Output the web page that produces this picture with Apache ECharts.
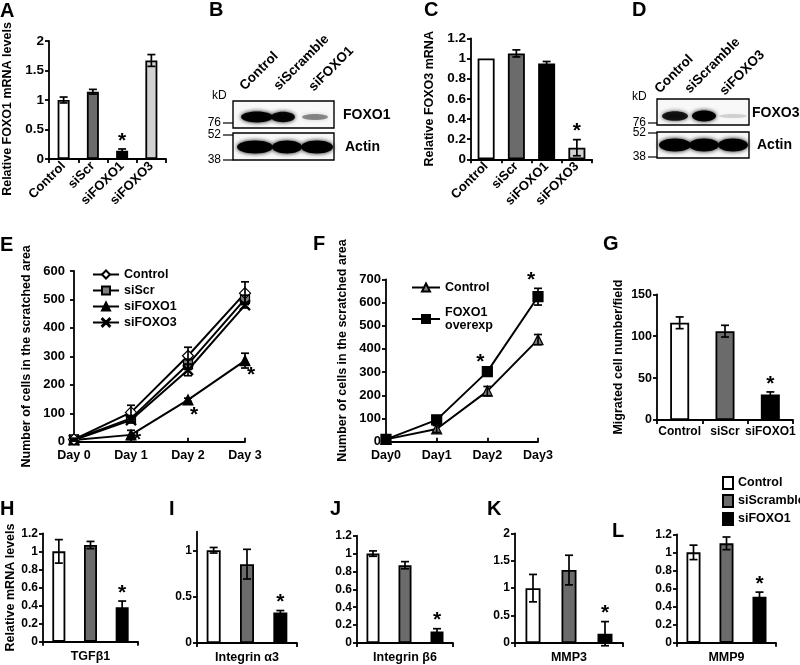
<!DOCTYPE html>
<html><head><meta charset="utf-8">
<script src="https://cdn.jsdelivr.net/npm/echarts@6/dist/echarts.min.js"></script>
<style>html,body{margin:0;padding:0;background:#fff}#c{width:800px;height:665px}</style>
</head><body><div id="c"></div>
<script>
// ---------------- DATA ----------------
// Panel A
const aCats = ['Control', 'siScr', 'siFOXO1', 'siFOXO3'];
const aVals = [1.00, 1.14, 0.14, 1.67];
const aErrs = [0.05, 0.04, 0.03, 0.10];
const aSig  = [0, 0, 1, 0];
// Panel C
const cCats = ['Control', 'siScr', 'siFOXO1', 'siFOXO3'];
const cVals = [1.00, 1.05, 0.95, 0.115];
const cErrs = [0, 0.035, 0.02, 0.08];
const cSig  = [0, 0, 0, 1];
// Panel B / D blots (relative band intensity)
const bLanes = ['Control', 'siScramble', 'siFOXO1'];
const bTarget = 'FOXO1';
const bTargetBands = [1.0, 0.95, 0.35];
const bActinBands = [1.0, 1.0, 1.0];
const dLanes = ['Control', 'siScramble', 'siFOXO3'];
const dTarget = 'FOXO3';
const dTargetBands = [0.85, 1.0, 0.08];
const dActinBands = [1.0, 1.0, 1.0];
const markerLabels = ['kD', '76', '52', '38'];
// Panel E
const eDays = ['Day 0', 'Day 1', 'Day 2', 'Day 3'];
const eNames = ['Control', 'siScr', 'siFOXO1', 'siFOXO3'];
const eControl = [8, 103, 302, 522],  eControlErr = [4, 25, 30, 40];
const eScr     = [8, 82, 272, 501],   eScrErr     = [3, 10, 18, 14];
const eFoxo1   = [6, 24, 147, 285],   eFoxo1Err   = [3, 16, 6, 26];
const eFoxo3   = [6, 76, 252, 480],   eFoxo3Err   = [3, 10, 20, 10];
const eFoxo1Sig = [0, 1, 1, 1];
// Panel F
const fDays = ['Day0', 'Day1', 'Day2', 'Day3'];
const fNames = ['Control', 'FOXO1\noverexp'];
const fControl = [10, 55, 218, 440], fControlErr = [3, 15, 20, 22];
const fFoxo1   = [10, 94, 302, 625], fFoxo1Err   = [3, 8, 6, 36];
const fFoxo1Sig = [0, 0, 1, 1];
// Panel G
const gCats = ['Control', 'siScr', 'siFOXO1'];
const gVals = [116, 106, 30.5];
const gErrs = [7, 7, 3];
const gSig  = [0, 0, 1];
// Panels H-L
const grpNames = ['Control', 'siScramble', 'siFOXO1'];
const hGene = 'TGFβ1',       hVals = [1.00, 1.07, 0.38], hErrs = [0.13, 0.04, 0.07];
const iGene = 'Integrin α3', iVals = [1.00, 0.85, 0.33], iErrs = [0.03, 0.16, 0.02];
const jGene = 'Integrin β6', jVals = [1.00, 0.87, 0.13], jErrs = [0.03, 0.04, 0.03];
const kGene = 'MMP3',        kVals = [1.00, 1.33, 0.17], kErrs = [0.25, 0.27, 0.22];
const lGene = 'MMP9',        lVals = [1.00, 1.10, 0.51], lErrs = [0.08, 0.07, 0.05];
const hlSig = [0, 0, 1];

// ---------------- STYLE ----------------
const FF = '"Liberation Sans", Arial, sans-serif';
const WHITE = '#ffffff', DGRAY = '#6b6b6b', BLACK = '#000000', LGRAY = '#d2d2d2', MGRAY = '#808080';
const LW = 1.8;
const lbl = (size) => ({ fontFamily: FF, fontWeight: 'bold', fontSize: size || 12, color: '#000' });

const grids = [
  { left: 48,  top: 41,    width: 118, height: 118 },   // 0 A
  { left: 471, top: 38.3,  width: 121, height: 121 },   // 1 C
  { left: 70,  top: 271,   width: 175, height: 170.7 }, // 2 E
  { left: 386, top: 279.3, width: 152, height: 162.4 }, // 3 F
  { left: 657, top: 294.3, width: 136, height: 125.7 }, // 4 G
  { left: 43,  top: 533.3, width: 95,  height: 108.4 }, // 5 H
  { left: 197, top: 531.7, width: 100, height: 111.6 }, // 6 I
  { left: 357, top: 535.7, width: 96,  height: 107.6 }, // 7 J
  { left: 515, top: 533.3, width: 108, height: 110 },   // 8 K
  { left: 677, top: 534.3, width: 99,  height: 108.4 }  // 9 L
];

function yAx(gi, min, max, interval, name, nameGap, extra, fs) {
  return Object.assign({
    type: 'value', gridIndex: gi, min, max, interval,
    name: name || '', nameLocation: 'middle', nameGap: nameGap || 30,
    nameTextStyle: lbl(12.5),
    axisLine: { show: true, lineStyle: { color: '#000', width: LW } },
    axisTick: { show: true, length: 4, lineStyle: { color: '#000', width: LW } },
    axisLabel: Object.assign(lbl(fs || 12), { margin: 5 }),
    splitLine: { show: false }
  }, extra || {});
}
function xCat(gi, data, extra) {
  return Object.assign({
    type: 'category', gridIndex: gi, data,
    axisLine: { show: true, lineStyle: { color: '#000', width: LW } },
    axisTick: { show: true, length: 4, lineStyle: { color: '#000', width: LW } },
    axisLabel: Object.assign(lbl(12), { interval: 0, margin: 5 }),
    splitLine: { show: false }
  }, extra || {});
}

// error bars + significance stars drawn through the axis scales
function errSeries(ai, rows, opt) {
  opt = opt || {};
  const cap = opt.cap || 4;
  return {
    type: 'custom', xAxisIndex: ai, yAxisIndex: ai, z: 10, silent: true,
    data: rows, encode: { x: 0, y: 1 },
    renderItem(params, api) {
      const x = api.value(0), v = api.value(1), e = api.value(2), s = api.value(3);
      const c = api.coord([x, v]);
      const t = api.coord([x, v + e]);
      const b = api.coord([x, v - e]);
      const base = api.coord([x, 0]);
      const ch = [];
      const ls = { stroke: '#000', lineWidth: 1.7 };
      if (e > 0) {
        ch.push({ type: 'line', shape: { x1: c[0], y1: t[1], x2: c[0], y2: b[1] }, style: ls });
        ch.push({ type: 'line', shape: { x1: c[0] - cap, y1: t[1], x2: c[0] + cap, y2: t[1] }, style: ls });
        ch.push({ type: 'line', shape: { x1: c[0] - cap, y1: b[1], x2: c[0] + cap, y2: b[1] }, style: ls });
      }
      if (s) {
        let sx, sy;
        if (opt.star === 'point') { sx = c[0] + opt.dx; sy = Math.min(c[1] + opt.dy, base[1] - 1); }
        else if (opt.star === 'topoff') { sx = t[0] + opt.dx; sy = t[1] + opt.dy; }
        else { sx = t[0]; sy = t[1] - 8; }
        ch.push({ type: 'text', x: sx, y: sy,
          style: { text: '*', font: 'bold 21px ' + FF, fill: '#000',
                   align: 'center', verticalAlign: 'middle', textAlign: 'center', textVerticalAlign: 'middle' } });
      }
      return { type: 'group', children: ch };
    }
  };
}
const rows = (vals, errs, sig) => vals.map((v, i) => [i, v, errs[i], sig ? sig[i] : 0]);

function singleBars(ai, vals, colors, bw) {
  return {
    type: 'bar', xAxisIndex: ai, yAxisIndex: ai, barWidth: bw,
    itemStyle: { borderColor: '#000', borderWidth: 1.8 },
    data: vals.map((v, i) => ({ value: v, itemStyle: { color: colors[i] } }))
  };
}

const xAxes = [], yAxes = [], series = [];
// A
xAxes.push(xCat(0, aCats, { axisLabel: Object.assign(lbl(13), { interval: 0, rotate: 45, margin: 5 }) }));
yAxes.push(yAx(0, 0, 2, 0.5, 'Relative FOXO1 mRNA levels', 35, { nameTextStyle: Object.assign(lbl(12.5), { padding: [0, 18, 0, 0] }) }, 13.5));
series.push(singleBars(0, aVals, [WHITE, DGRAY, BLACK, LGRAY], 12));
series.push(errSeries(0, rows(aVals, aErrs, aSig)));
// C
xAxes.push(xCat(1, cCats, { axisLabel: Object.assign(lbl(13), { interval: 0, rotate: 45, margin: 5 }) }));
yAxes.push(yAx(1, 0, 1.2, 0.2, 'Relative FOXO3 mRNA', 35, null, 13.5));
series.push(singleBars(1, cVals, [WHITE, DGRAY, BLACK, LGRAY], 17));
series.push(errSeries(1, rows(cVals, cErrs, cSig)));
// E
const eIdx = eDays.map((d, i) => i);
xAxes.push({
  type: 'value', gridIndex: 2, min: -0.07, max: 3,
  axisLine: { show: true, lineStyle: { color: '#000', width: LW } },
  axisTick: { show: true, inside: true, length: 4, customValues: eIdx, lineStyle: { color: '#000', width: LW } },
  axisLabel: Object.assign(lbl(12.5), { customValues: eIdx, margin: 7, formatter: v => eDays[Math.round(v)] }),
  splitLine: { show: false }
});
yAxes.push(yAx(2, 0, 600, 100, 'Number of cells in the scratched area', 37, null, 13));
const eSeriesDef = [
  { name: eNames[1], vals: eScr,     errs: eScrErr,     sym: 'rect',     size: 9,  fill: MGRAY },
  { name: eNames[3], vals: eFoxo3,   errs: eFoxo3Err,   sym: 'path://M0,0.8 L0.8,0 L5,4.2 L9.2,0 L10,0.8 L5.8,5 L10,9.2 L9.2,10 L5,5.8 L0.8,10 L0,9.2 L4.2,5 Z', size: 10, fill: BLACK },
  { name: eNames[2], vals: eFoxo1,   errs: eFoxo1Err,   sym: 'triangle', size: 10, fill: BLACK, sig: eFoxo1Sig },
  { name: eNames[0], vals: eControl, errs: eControlErr, sym: 'diamond',  size: 11, fill: WHITE }
];
eSeriesDef.forEach(d => {
  series.push({
    type: 'line', name: d.name, xAxisIndex: 2, yAxisIndex: 2,
    data: d.vals.map((v, i) => [i, v]),
    symbol: d.sym, symbolSize: d.size, showAllSymbol: true,
    lineStyle: { color: '#000', width: 2 },
    itemStyle: { color: d.fill, borderColor: '#000', borderWidth: 1.2 },
    z: 3
  });
  series.push(errSeries(2, rows(d.vals, d.errs, d.sig), { star: 'point', dx: 6, dy: 15 }));
});
// F
xAxes.push(xCat(3, fDays, {
  boundaryGap: false,
  axisTick: { show: true, inside: true, length: 4, lineStyle: { color: '#000', width: LW } },
  axisLabel: Object.assign(lbl(12.5), { interval: 0, margin: 7 })
}));
yAxes.push(yAx(3, 0, 700, 100, 'Number of cells in the scratched area', 37, { nameTextStyle: Object.assign(lbl(12.5), { padding: [0, 0, 0, 20] }) }, 13));
const fSeriesDef = [
  { name: 'F:' + fNames[0], vals: fControl, errs: fControlErr, sym: 'triangle', size: 10, fill: MGRAY },
  { name: 'F:' + fNames[1], vals: fFoxo1,   errs: fFoxo1Err,   sym: 'rect',     size: 10, fill: BLACK, sig: fFoxo1Sig }
];
fSeriesDef.forEach(d => {
  series.push({
    type: 'line', name: d.name, xAxisIndex: 3, yAxisIndex: 3,
    data: d.vals, symbol: d.sym, symbolSize: d.size, showAllSymbol: true,
    lineStyle: { color: '#000', width: 2 },
    itemStyle: { color: d.fill, borderColor: '#000', borderWidth: 1.2 }, z: 3
  });
  series.push(errSeries(3, rows(d.vals, d.errs, d.sig), { star: 'topoff', dx: -7, dy: -8 }));
});
// G
xAxes.push(xCat(4, gCats, { axisLabel: Object.assign(lbl(12), { interval: 0, margin: 6 }) }));
yAxes.push(yAx(4, 0, 150, 50, 'Migrated cell number/field', 32, null, 12.5));
series.push(singleBars(4, gVals, [WHITE, DGRAY, BLACK], 19));
series.push(errSeries(4, rows(gVals, gErrs, gSig)));
// H-L
const grpColors = [WHITE, DGRAY, BLACK];
const hl = [
  { gi: 5, gene: hGene, vals: hVals, errs: hErrs, max: 1.2, itv: 0.2, bw: 13, name: 'Relative mRNA levels' },
  { gi: 6, gene: iGene, vals: iVals, errs: iErrs, max: 1.2, itv: 0.5, bw: 14, custom: [0, 0.5, 1] },
  { gi: 7, gene: jGene, vals: jVals, errs: jErrs, max: 1.2, itv: 0.2, bw: 13 },
  { gi: 8, gene: kGene, vals: kVals, errs: kErrs, max: 2,   itv: 0.5, bw: 15 },
  { gi: 9, gene: lGene, vals: lVals, errs: lErrs, max: 1.2, itv: 0.2, bw: 14 }
];
hl.forEach(p => {
  xAxes.push(xCat(p.gi, grpNames, {
    name: p.gene, nameLocation: 'middle', nameGap: 8, nameTextStyle: Object.assign(lbl(12.5), { verticalAlign: 'top' }),
    axisLabel: { show: false }
  }));
  const extra = {};
  if (p.custom) {
    extra.axisLabel = Object.assign(lbl(12), { margin: 5, customValues: p.custom });
    extra.axisTick = { show: true, length: 4, customValues: p.custom, lineStyle: { color: '#000', width: LW } };
  }
  yAxes.push(yAx(p.gi, 0, p.max, p.custom ? undefined : p.itv, p.name || '', 24, extra));
  grpNames.forEach((g, k) => {
    series.push({
      type: 'bar', name: 'bar:' + g, xAxisIndex: p.gi, yAxisIndex: p.gi,
      barWidth: p.bw, barGap: '-100%',
      itemStyle: { color: grpColors[k], borderColor: '#000', borderWidth: 1.8 },
      data: p.vals.map((v, j) => (j === k ? v : '-'))
    });
  });
  series.push(errSeries(p.gi, rows(p.vals, p.errs, hlSig)));
});

// ---------------- GRAPHICS: panel letters + blots ----------------
const graphic = [];
const letters = [['A', 0, 11], ['B', 209, 10], ['C', 424, 10], ['D', 632, 10], ['E', 0, 245],
  ['F', 313, 244], ['G', 603, 244], ['H', 0, 509], ['I', 169, 509], ['J', 330, 509], ['K', 487, 509], ['L', 612, 531]];
letters.forEach(([t, x, y]) => graphic.push({ type: 'text', x, y,
  style: { text: t, font: 'bold 20px ' + FF, fill: '#000', textAlign: 'left', textVerticalAlign: 'middle', align: 'left', verticalAlign: 'middle' } }));

function txt(text, x, y, font, align, valign, rot) {
  return { type: 'text', x, y, rotation: rot || 0, z: 5,
    style: { text, font, fill: '#000', textAlign: align, textVerticalAlign: valign, align, verticalAlign: valign } };
}
function blot(cfg) {
  const { boxX, boxW, tTop, aTop, h, tCy, aCy, tCx, tRx, aCx, aRx, tBands, aBands, lanes, laneAnchors, target, tLabel, aLabel, mk } = cfg;
  graphic.push({ type: 'rect', shape: { x: boxX, y: tTop, width: boxW, height: h }, style: { fill: '#f8f8f8', stroke: '#000', lineWidth: 1.4 }, z: 1 });
  graphic.push({ type: 'rect', shape: { x: boxX, y: aTop, width: boxW, height: h }, style: { fill: '#f8f8f8', stroke: '#000', lineWidth: 1.4 }, z: 1 });
  tBands.forEach((I, i) => {
    const a = (0.08 + 0.9 * I).toFixed(2);
    graphic.push({ type: 'ellipse', z: 2, shape: { cx: tCx[i], cy: tCy, rx: tRx[i], ry: 1.8 + 3.6 * I },
      style: { fill: 'rgba(0,0,0,' + a + ')', shadowBlur: 4, shadowColor: 'rgba(0,0,0,' + a + ')' } });
  });
  aBands.forEach((I, i) => {
    const a = (0.08 + 0.9 * I).toFixed(2);
    graphic.push({ type: 'ellipse', z: 2, shape: { cx: aCx[i], cy: aCy, rx: aRx[i], ry: 6.5 * I },
      style: { fill: 'rgba(0,0,0,' + a + ')', shadowBlur: 4, shadowColor: 'rgba(0,0,0,' + a + ')' } });
  });
  lanes.forEach((l, i) => graphic.push(txt(l, laneAnchors[i][0], laneAnchors[i][1], 'bold 13.5px ' + FF, 'left', 'bottom', Math.PI / 4)));
  graphic.push(txt(target, tLabel[0], tLabel[1], 'bold 14px ' + FF, 'left', 'middle'));
  graphic.push(txt('Actin', aLabel[0], aLabel[1], 'bold 14px ' + FF, 'left', 'middle'));
  // molecular-weight markers
  graphic.push(txt(markerLabels[0], mk.kdX, mk.kdY, '12px ' + FF, 'left', 'middle'));
  [1, 2, 3].forEach(k => {
    const y = mk.ys[k - 1];
    graphic.push(txt(markerLabels[k], mk.numX, y, '12px ' + FF, 'right', 'middle'));
    graphic.push({ type: 'line', z: 3, shape: { x1: mk.numX + 2, y1: y, x2: boxX, y2: y }, style: { stroke: '#000', lineWidth: 1.2 } });
  });
}
blot({ boxX: 233, boxW: 101, tTop: 101, aTop: 133, h: 27, tCy: 117, aCy: 147,
  tCx: [257, 283, 315], tRx: [16, 12, 13], aCx: [255, 287, 317], aRx: [18, 15, 16],
  tBands: bTargetBands, aBands: bActinBands, lanes: bLanes,
  laneAnchors: [[247, 93], [281, 93], [316, 94]], target: bTarget, tLabel: [343, 115], aLabel: [345, 147],
  mk: { kdX: 212, kdY: 96, numX: 221, ys: [123, 135, 160] } });
blot({ boxX: 657, boxW: 92, tTop: 99, aTop: 132, h: 26, tCy: 116, aCy: 145,
  tCx: [675, 704, 733], tRx: [13, 12, 14], aCx: [675, 704, 733], aRx: [16, 15, 15],
  tBands: dTargetBands, aBands: dActinBands, lanes: dLanes,
  laneAnchors: [[662, 96], [692, 96], [727, 98]], target: dTarget, tLabel: [752, 113], aLabel: [757, 145],
  mk: { kdX: 632, kdY: 97, numX: 646, ys: [123, 133, 157] } });

// ---------------- OPTION ----------------
const legendText = lbl(12.5);
const option = {
  animation: false,
  backgroundColor: '#fff',
  grid: grids,
  xAxis: xAxes,
  yAxis: yAxes,
  legend: [
    { data: eNames, orient: 'vertical', left: 92, top: 268, itemWidth: 26, itemHeight: 10, itemGap: 3, padding: 0,
      textStyle: legendText, selectedMode: false },
    { data: fSeriesDef.map(d => d.name), formatter: n => n.slice(2), orient: 'vertical', left: 411, top: 281,
      itemWidth: 28, itemHeight: 10, itemGap: 12, padding: 0, textStyle: Object.assign(lbl(12.5), { lineHeight: 13 }), selectedMode: false },
    { data: grpNames.map(g => 'bar:' + g), formatter: n => n.slice(4), orient: 'vertical', left: 722, top: 476,
      itemWidth: 10, itemHeight: 12, itemGap: 4, padding: 0, icon: 'rect', textStyle: legendText, selectedMode: false }
  ],
  graphic,
  series
};
const chart = echarts.init(document.getElementById('c'), null, { renderer: 'canvas' });
chart.setOption(option);
</script></body></html>
